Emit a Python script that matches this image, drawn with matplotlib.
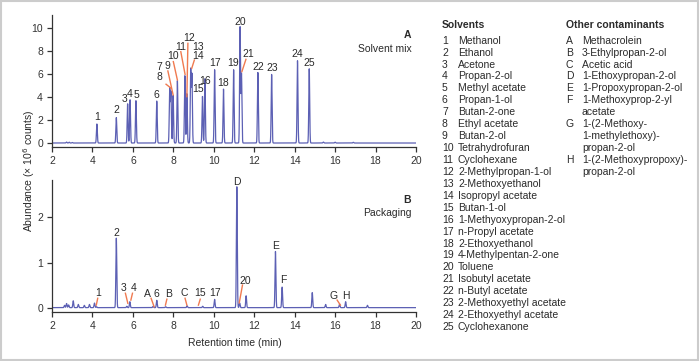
import numpy as np
import matplotlib.pyplot as plt
from matplotlib.patches import Rectangle

plt.rcParams['font.family'] = ['Liberation Sans', 'DejaVu Sans']

# Panel A: solvent mix peaks (retention time in min, height in 10^6 counts)
a_names = ['1', '2', '3', '4', '5', '6', '7', '8', '9', '10', '11', '12', '13',
           '14', '15', '16', '17', '18', '19', '20', '21', '22', '23', '24', '25']
a_rt = [4.22, 5.18, 5.74, 5.86, 6.15, 7.18, 7.82, 7.88, 7.99, 8.20, 8.57, 8.67, 8.86,
        8.92, 9.44, 9.56, 10.04, 10.48, 10.98, 11.30, 11.37, 12.18, 12.86, 14.14, 14.72]
a_height = [1.65, 2.2, 3.4, 3.75, 3.67, 3.64, 4.7, 4.4, 4.13, 5.4, 5.84, 4.28, 6.36,
            5.9, 4.04, 5.58, 6.36, 4.68, 6.36, 10.06, 6.0, 6.12, 5.95, 7.14, 6.44]
# small unlabelled bumps in panel A
a_minor_rt = [2.72, 2.85, 3.0, 15.42, 16.0, 16.9]
a_minor_height = [0.08, 0.07, 0.05, 0.08, 0.07, 0.06]

# Panel B: packaging extract
b_rt = [2.62, 2.72, 2.82, 3.05, 3.30, 3.60, 3.85, 4.10, 4.20, 5.18, 5.70, 5.85, 7.00,
        7.18, 7.62, 8.68, 9.45, 10.04, 11.14, 11.28, 11.60, 13.05, 13.38, 14.87, 15.53,
        16.22, 16.52, 17.60]
b_height = [0.05, 0.09, 0.06, 0.15, 0.07, 0.05, 0.07, 0.10, 0.02, 1.52, 0.03, 0.13, 0.03,
            0.16, 0.02, 0.04, 0.03, 0.18, 2.65, 0.10, 0.26, 1.23, 0.45, 0.33, 0.07,
            0.08, 0.13, 0.05]

solvents = ['Methanol', 'Ethanol', 'Acetone', 'Propan-2-ol', 'Methyl acetate',
            'Propan-1-ol', 'Butan-2-one', 'Ethyl acetate', 'Butan-2-ol',
            'Tetrahydrofuran', 'Cyclohexane', '2-Methylpropan-1-ol', '2-Methoxyethanol',
            'Isopropyl acetate', 'Butan-1-ol', '1-Methyoxypropan-2-ol', 'n-Propyl acetate',
            '2-Ethoxyethanol', '4-Methylpentan-2-one', 'Toluene', 'Isobutyl acetate',
            'n-Butyl acetate', '2-Methoxyethyl acetate', '2-Ethoxyethyl acetate',
            'Cyclohexanone']
contaminants = [('A', ['Methacrolein']),
                ('B', ['3-Ethylpropan-2-ol']),
                ('C', ['Acetic acid']),
                ('D', ['1-Ethoxypropan-2-ol']),
                ('E', ['1-Propoxypropan-2-ol']),
                ('F', ['1-Methoxyprop-2-yl', 'acetate']),
                ('G', ['1-(2-Methoxy-', '1-methylethoxy)-', 'propan-2-ol']),
                ('H', ['1-(2-Methoxypropoxy)-', 'propan-2-ol'])]

# label placement (text centre), optional leader line end points
a_label_pos = {'1': (4.23, 2.25), '2': (5.18, 2.86), '3': (5.6, 3.87), '4': (5.86, 4.28),
               '5': (6.16, 4.22), '6': (7.18, 4.19), '7': (7.33, 6.59), '8': (7.3, 5.78),
               '9': (7.71, 6.73), '10': (7.99, 7.57), '11': (8.34, 8.38), '12': (8.78, 9.1),
               '13': (9.23, 8.38), '14': (9.23, 7.6), '15': (9.24, 4.68), '16': (9.57, 5.38),
               '17': (10.07, 6.94), '18': (10.45, 5.2), '19': (10.96, 6.94),
               '20': (11.31, 10.55), '21': (11.69, 7.72), '22': (12.18, 6.64),
               '23': (12.88, 6.5), '24': (14.14, 7.72), '25': (14.72, 6.94)}
a_leaders = {'8': ((7.64, 5.12), (7.89, 4.77)), '9': ((7.73, 6.27), (7.99, 4.19)),
             '10': ((8.0, 7.08), (8.2, 5.49)), '11': ((8.37, 7.94), (8.58, 5.98)),
             '12': ((8.72, 8.67), (8.67, 4.04)), '14': ((9.04, 7.22), (8.91, 6.5)),
             '21': ((11.59, 7.28), (11.39, 6.21))}
b_label_pos = {'1': (4.29, 0.33), '2': (5.18, 1.66), '3': (5.56, 0.44), '4': (6.06, 0.44),
               'A': (6.72, 0.31), '6': (7.18, 0.31), 'B': (7.74, 0.31), 'C': (8.53, 0.34),
               '15': (9.33, 0.33), '17': (10.08, 0.33), 'D': (11.14, 2.77),
               '20': (11.55, 0.6), 'E': (13.06, 1.37), 'F': (13.42, 0.62),
               'G': (15.93, 0.27), 'H': (16.54, 0.27)}
b_leaders = {'1': ((4.26, 0.22), (4.19, 0.07)), '3': ((5.63, 0.33), (5.75, 0.11)),
             '4': ((5.98, 0.33), (5.9, 0.18)), 'A': ((6.9, 0.22), (7.05, 0.035)),
             'B': ((7.68, 0.2), (7.61, 0.07)), 'C': ((8.58, 0.22), (8.67, 0.07)),
             '15': ((9.33, 0.2), (9.24, 0.07)), '20': ((11.42, 0.51), (11.26, 0.12)),
             'G': ((16.1, 0.18), (16.26, 0.07))}

line_color = '#5c60b4'
lead_color = '#f07a50'
text_color = '#2a2a2a'
W, H = 700, 361


def trace(x, rts, heights, sig=0.022):
    y = np.zeros_like(x)
    for r, h in zip(rts, heights):
        y += h * np.exp(-(x - r) ** 2 / (2 * sig ** 2))
    return y


def style(ax, ylim, yticks):
    ax.set_xlim(2, 20)
    ax.set_ylim(*ylim)
    ax.set_xticks(range(2, 21, 2))
    ax.set_yticks(yticks)
    for s in ['top', 'right']:
        ax.spines[s].set_visible(False)
    for s in ['left', 'bottom']:
        ax.spines[s].set_color('#333333')
        ax.spines[s].set_linewidth(0.9)
    ax.tick_params(direction='out', length=3.5, width=0.9, colors='#333333',
                   labelsize=7.5, pad=3)
    ax.patch.set_alpha(0)


def fpos(px, py):
    return px / W, 1 - py / H


fig = plt.figure(figsize=(7, 3.61), dpi=100)
fig.patches.append(Rectangle((0.002, 0.003), 0.995, 0.993, transform=fig.transFigure,
                             fill=False, ec='#cccccc', lw=1.5))

x = np.linspace(2, 20, 9000)

axA = fig.add_axes([52 / W, 1 - 146.7 / H, 364 / W, 131.4 / H])
yA = trace(x, a_rt + a_minor_rt, a_height + a_minor_height) + 0.02
axA.plot(x, yA, color=line_color, lw=0.9)
style(axA, (-0.3, 11.1), [0, 2, 4, 6, 8, 10])
for name, (lx, ly) in a_label_pos.items():
    axA.text(lx, ly, name, ha='center', va='center', fontsize=7.5, color=text_color)
for name, (p0, p1) in a_leaders.items():
    axA.plot([p0[0], p1[0]], [p0[1], p1[1]], color=lead_color, lw=1)

axB = fig.add_axes([52 / W, 1 - 311.7 / H, 364 / W, 131.7 / H])
yB = trace(x, b_rt, b_height) + 0.015
axB.plot(x, yB, color=line_color, lw=0.9)
style(axB, (-0.074, 2.81), [0, 1, 2])
for name, (lx, ly) in b_label_pos.items():
    axB.text(lx, ly, name, ha='center', va='center', fontsize=7.5, color=text_color)
for name, (p0, p1) in b_leaders.items():
    axB.plot([p0[0], p1[0]], [p0[1], p1[1]], color=lead_color, lw=1)

# panel tags
fig.text(*fpos(411, 35), 'A', ha='right', va='center', fontsize=7.5, weight='bold',
         color=text_color)
fig.text(*fpos(412, 49), 'Solvent mix', ha='right', va='center', fontsize=7.5,
         color=text_color)
fig.text(*fpos(411, 200), 'B', ha='right', va='center', fontsize=7.5, weight='bold',
         color=text_color)
fig.text(*fpos(412, 213), 'Packaging', ha='right', va='center', fontsize=7.5,
         color=text_color)

fig.text(*fpos(29, 171), 'Abundance (× 10$^6$ counts)', rotation=90,
         ha='center', va='center', fontsize=7.5, color=text_color)
fig.text(*fpos(235, 343), 'Retention time (min)', ha='center', va='center', fontsize=7.5,
         color=text_color)

# legend columns
row0, step = 40.7, 11.93
fig.text(*fpos(442, 25), 'Solvents', ha='left', va='center', fontsize=7.5, weight='bold',
         color=text_color)
for i, nm in enumerate(solvents):
    fig.text(*fpos(442, row0 + i * step), str(i + 1), ha='left', va='center',
             fontsize=7.5, color=text_color)
    fig.text(*fpos(458, row0 + i * step), nm, ha='left', va='center', fontsize=7.5,
             color=text_color)

fig.text(*fpos(566, 25), 'Other contaminants', ha='left', va='center', fontsize=7.5,
         weight='bold', color=text_color)
row = 0
for letter, lines in contaminants:
    fig.text(*fpos(566, row0 + row * step), letter, ha='left', va='center', fontsize=7.5,
             color=text_color)
    for ln in lines:
        fig.text(*fpos(582, row0 + row * step), ln, ha='left', va='center', fontsize=7.5,
                 color=text_color)
        row += 1

fig.savefig('out.png', dpi=100)
